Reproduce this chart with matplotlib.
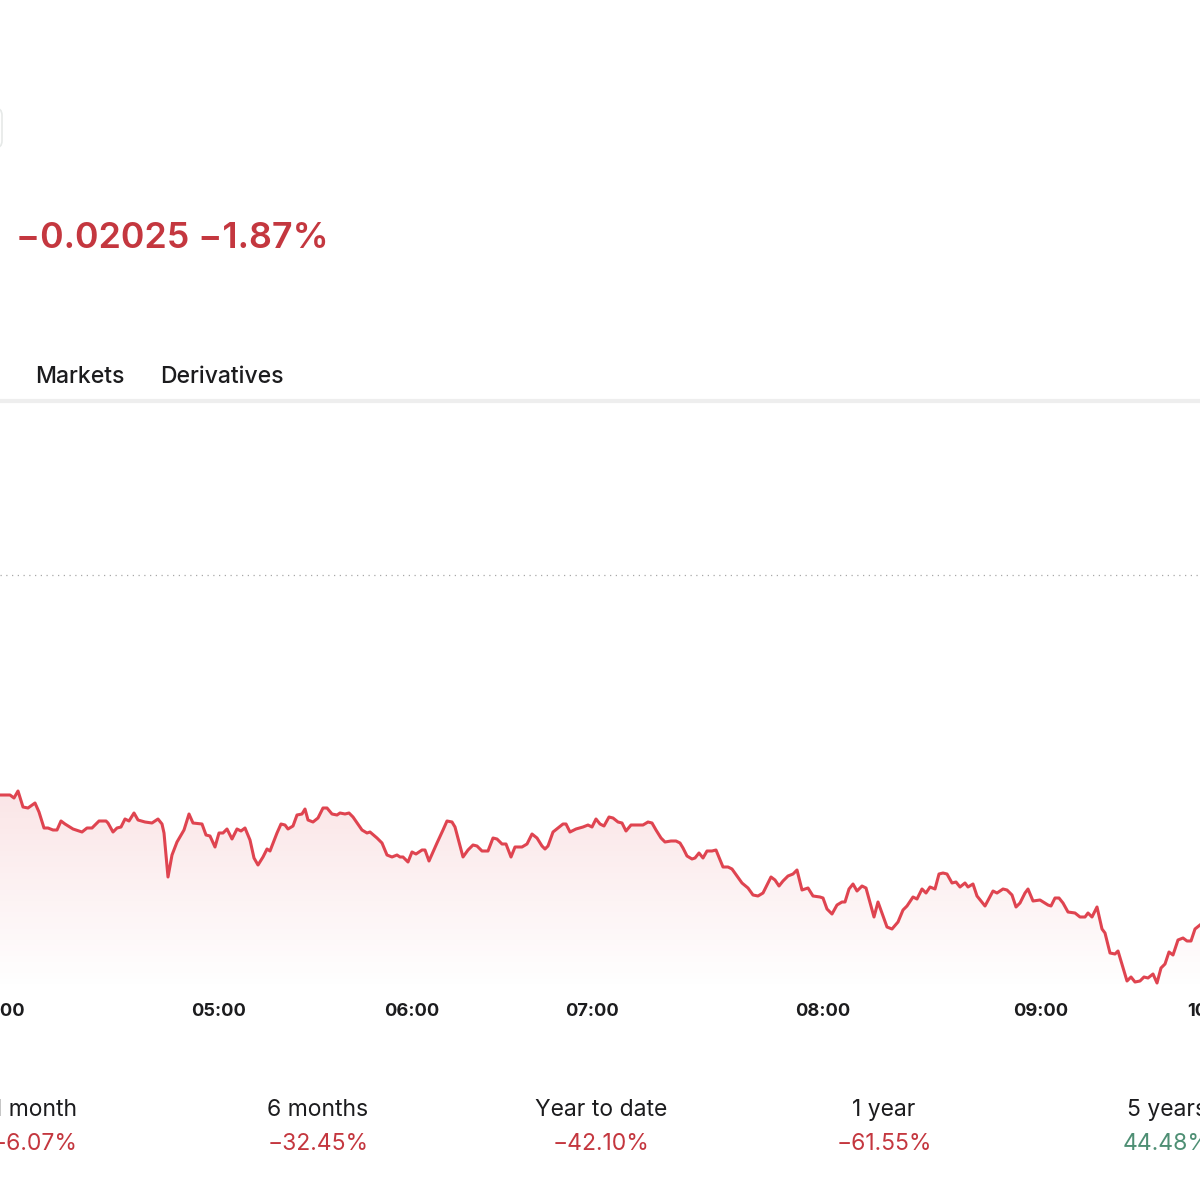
import numpy as np
import matplotlib.pyplot as plt
from matplotlib.patches import FancyBboxPatch

# Data
#---------------------------------------------------------
prev_close = 1.0829            # previous close (dotted line)
change_abs = '\u22120.02025'
change_pct = '\u22121.87%'

# session bar position (index along the time axis) and move vs previous close in pips
bar = [0, 10, 14, 18, 23, 28, 35, 39, 44, 48, 53, 57, 61, 65, 73, 82, 87, 92, 99, 106,
       108, 113, 117, 121, 125, 129, 134, 138, 145, 152, 158, 162, 164, 168, 172, 177, 184, 189, 193, 202,
       206, 210, 215, 219, 223, 227, 232, 237, 241, 245, 250, 254, 258, 263, 267, 270, 277, 281, 285, 288,
       293, 297, 302, 305, 308, 313, 318, 323, 327, 332, 337, 340, 345, 349, 353, 362, 367, 370, 377, 382,
       387, 392, 397, 400, 403, 408, 412, 416, 422, 425, 429, 437, 443, 447, 452, 455, 463, 468, 473, 477,
       482, 488, 493, 497, 502, 506, 511, 515, 522, 527, 532, 537, 542, 545, 548, 553, 558, 563, 566, 570,
       576, 583, 588, 592, 596, 600, 604, 609, 613, 618, 622, 626, 631, 637, 643, 648, 652, 656, 661, 665,
       671, 676, 680, 683, 687, 692, 695, 699, 703, 707, 712, 716, 723, 728, 732, 737, 742, 748, 753, 758,
       763, 771, 775, 779, 783, 788, 793, 797, 802, 808, 813, 820, 823, 827, 832, 837, 842, 845, 849, 853,
       857, 862, 866, 874, 878, 887, 892, 898, 903, 907, 913, 917, 922, 926, 930, 935, 939, 943, 947, 952,
       956, 960, 965, 968, 973, 977, 985, 993, 997, 1003, 1007, 1012, 1016, 1020, 1025, 1028, 1033, 1040, 1048, 1051,
       1055, 1059, 1063, 1068, 1075, 1080, 1085, 1088, 1092, 1097, 1102, 1105, 1110, 1115, 1118, 1127, 1131, 1135, 1140, 1144,
       1148, 1153, 1157, 1161, 1165, 1169, 1173, 1178, 1183, 1187, 1191, 1195, 1200]
pips = [-110, -110, -111.5, -108, -116, -116.5, -114, -118.5, -126.5, -126.5, -127.5, -127.5, -123, -124.5, -127, -128.5, -126.5, -126.5, -123, -123,
        -124, -128.5, -126.5, -126, -122, -123, -119, -122.5, -123.5, -124, -122, -124.5, -129, -151, -140, -133.5, -127.5, -119.5, -124, -124.5,
        -130, -130.5, -136, -129, -129, -127, -132, -127, -128, -126.5, -132.5, -141.5, -145, -141, -137, -138, -129, -124.5, -125, -127,
        -125.5, -120, -119.5, -117, -122.5, -123.5, -121.5, -116.5, -116.5, -119.5, -120, -119, -119.5, -119, -121, -127.5, -129, -128.5, -131.5, -134,
        -140, -141, -140, -141, -141, -143.5, -138.5, -139.5, -137.5, -137.5, -143, -134, -127.5, -123, -123.5, -126, -141, -137.5, -135, -135.5,
        -138, -138, -131.5, -132, -134.5, -134.5, -141, -136, -136, -134.5, -129.5, -131.5, -135.5, -137, -135.5, -128.5, -126.5, -124.5, -124.5, -128.5,
        -127, -126, -125, -126, -122, -124.5, -125.5, -121, -121.5, -123.5, -124, -128, -125, -125, -125, -123.5, -124, -127.5, -131.5, -133.5,
        -133, -133, -134, -136.5, -140.5, -142, -141.5, -139, -141.5, -138, -138, -137.5, -146, -146, -147, -150.5, -154, -156.5, -160, -160.5,
        -159, -151, -152.5, -155.5, -153, -150.5, -149.5, -147.5, -157.5, -156.5, -160.5, -161, -161.5, -167, -169.5, -165, -163.5, -163.5, -157, -154.5,
        -158, -155.5, -156.5, -171, -163.5, -176, -177, -173.5, -167.5, -165.5, -161, -162, -157, -159, -156, -157, -149.5, -149, -149.5, -154,
        -153.5, -156, -154, -156, -154.5, -160.5, -165.5, -158, -159, -157, -157.5, -160, -166, -164, -159, -157, -163, -162.5, -165, -165.5,
        -161.5, -161.5, -164, -168.5, -169, -171, -171, -169, -171, -166, -177, -179, -189, -189.5, -188, -203, -201, -203.5, -203, -201,
        -201.5, -199.5, -204, -196.5, -194.5, -188.5, -190, -182.5, -181.5, -183, -183, -177, -175]

tick_bar = [-3, 219, 412, 592, 823, 1041, 1213]
tick_labels = ['04:00', '05:00', '06:00', '07:00', '08:00', '09:00', '10:00']

tabs = ['Markets', 'Derivatives']
perf_periods = ['1 month', '6 months', 'Year to date', '1 year', '5 years']
perf_values = [-6.07, -32.45, -42.10, -61.55, 44.48]

# Plot
#---------------------------------------------------------
W, H = 1200, 1183
RED = '#df4450'
TXT_RED = '#c4373f'
GREEN = '#4e8f74'
DARK = '#1c1c1e'

plt.rcParams['font.family'] = ['Inter', 'DejaVu Sans']

fig = plt.figure(figsize=(W / 100, H / 100), dpi=100)
fig.patch.set_facecolor('white')

def fx(px):
    return px / W

def fy(py):
    return 1 - py / H

price = prev_close + np.array(pips) / 10000.0
x = np.array(bar)

# main chart axes (spans the full width, clipped at the edges)
ax = fig.add_axes([0, fy(990), 1, fy(405) - fy(990)])
ax.set_xlim(0, 1200)
ax.set_ylim(prev_close - 207.5e-4, prev_close + 85e-4)
ax.axis('off')

# gradient fill under the line
y_bot = prev_close - 207.5e-4
poly = ax.fill_between(x, price, y_bot, color='none', lw=0)
grad = np.linspace(0, 1, 256).reshape(-1, 1)
rgba = np.zeros((256, 1, 4))
rgba[..., 0], rgba[..., 1], rgba[..., 2] = 0.87, 0.27, 0.31
rgba[..., 3] = 0.14 * grad
img = ax.imshow(rgba, aspect='auto', origin='lower',
                extent=[0, 1200, y_bot, price.max()], zorder=1)
img.set_clip_path(poly.get_paths()[0], transform=ax.transData)

ax.plot(x, price, color=RED, linewidth=2.2, solid_joinstyle='round', zorder=3)
ax.axhline(prev_close, color='#a8a8a8', linewidth=0.9, linestyle=(0, (1, 3.6)), zorder=2)

# hour labels under the chart
for tb, lab in zip(tick_bar, tick_labels):
    ax.text(tb, -0.037, lab, transform=ax.get_xaxis_transform(), ha='center', va='center',
            fontsize=13.2, fontweight='bold', color=DARK, clip_on=False)

# header: change vs previous close
fig.text(fx(16), fy(239), change_abs + ' ' + change_pct, fontsize=25.8, fontweight='semibold',
         color=TXT_RED, ha='left', va='center')

# small button box at the top left (cut off)
fig.patches.append(FancyBboxPatch((fx(-40), fy(148)), fx(42), fy(108) - fy(148),
                                  boxstyle='round,pad=0,rounding_size=0.006',
                                  transform=fig.transFigure, facecolor='white',
                                  edgecolor='#e6e9e8', linewidth=1.2))

# tabs and separator
fig.text(fx(35), fy(377), tabs[0], fontsize=16.5, fontweight='medium', color=DARK, ha='left', va='center')
fig.text(fx(160), fy(377), tabs[1], fontsize=16.5, fontweight='medium', color=DARK, ha='left', va='center')
fig.add_artist(plt.Line2D([0, 1], [fy(401), fy(401)], transform=fig.transFigure,
                          color='#eeeeee', linewidth=3))

# performance row
for i, (period, val) in enumerate(zip(perf_periods, perf_values)):
    cx = fx(35 + 283 * i)
    col = GREEN if val >= 0 else TXT_RED
    s = ('%.2f%%' % val).replace('-', '\u2212')
    fig.text(cx, fy(1110), period, fontsize=16.5, color=DARK, ha='center', va='center')
    fig.text(cx, fy(1144), s, fontsize=16.5, color=col, ha='center', va='center')

fig.savefig('out.png', dpi=100, facecolor='white')
